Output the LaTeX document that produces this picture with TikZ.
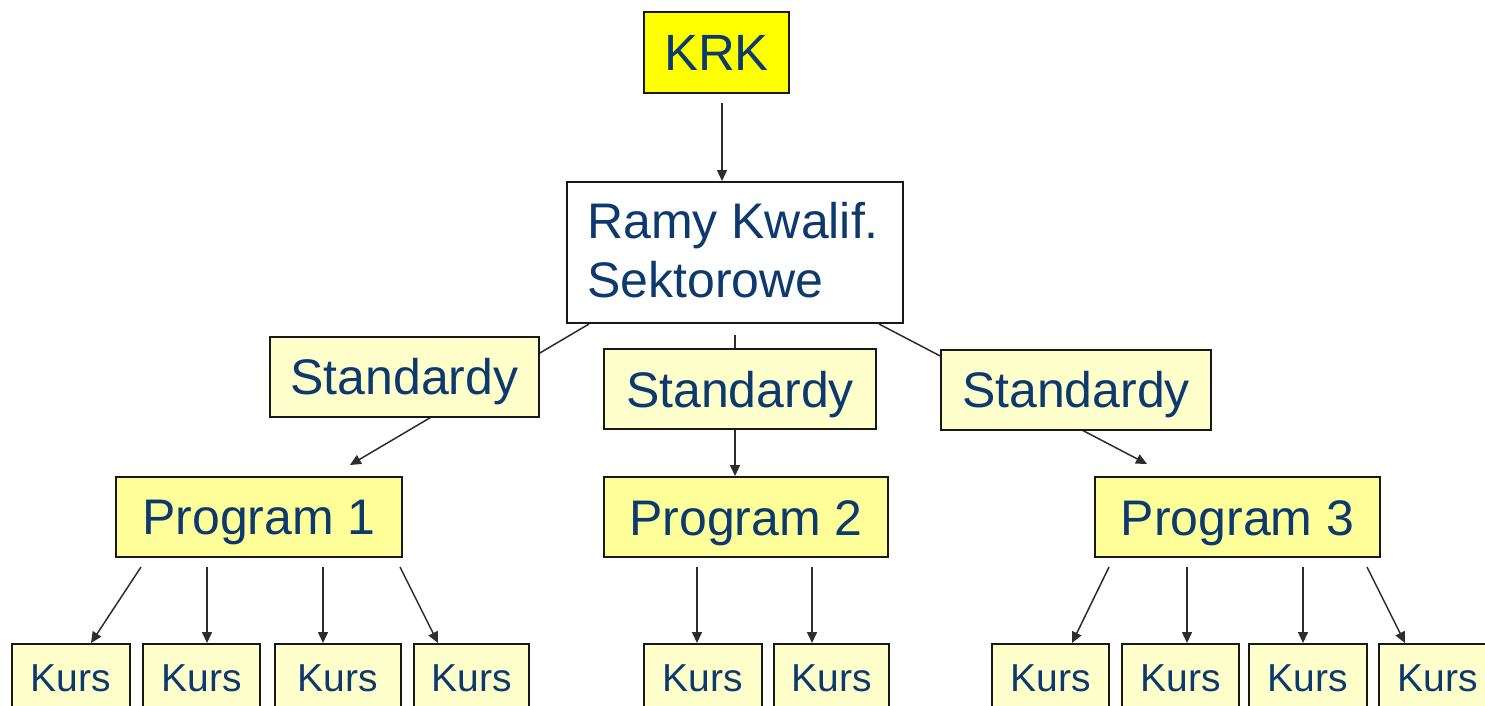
\documentclass[tikz,border=0pt]{standalone}
\usepackage{fontspec}
\setmainfont{Liberation Sans}
\usetikzlibrary{arrows.meta,calc}
\definecolor{txtblue}{RGB}{13,58,110}
\definecolor{krkyellow}{RGB}{255,255,0}
\definecolor{progyellow}{RGB}{255,255,153}
\definecolor{paleyellow}{RGB}{255,255,204}
\definecolor{linegrey}{RGB}{45,45,45}
\pgfdeclarelayer{bg}
\pgfsetlayers{bg,main}
\tikzset{
  box/.style={draw=black!90, line width=2pt, inner sep=0pt, text=txtblue, align=center},
  bigtext/.style={font=\fontsize{50}{59}\selectfont, text height=36pt, text depth=0pt},
  krkbox/.style={box, fill=krkyellow, minimum width=145pt, minimum height=81pt,
    font=\fontsize{51}{60}\selectfont, text height=36.5pt, text depth=0pt},
  ramybox/.style={box, fill=white, minimum width=336pt, minimum height=141pt},
  stdbox/.style={box, bigtext, fill=paleyellow, minimum height=80pt},
  progbox/.style={box, bigtext, fill=progyellow, minimum height=80pt},
  kursbox/.style={box, fill=paleyellow, minimum height=66pt, anchor=north,
    font=\fontsize{39}{46}\selectfont, text height=28pt, text depth=0pt},
  conn/.style={draw=linegrey, line width=1.5pt, -{Triangle[length=11pt,width=10pt]}}
}
\begin{document}
\begin{tikzpicture}[x=1pt,y=-1pt]
\begin{pgfonlayer}{bg}
  \fill[white] (0,0) rectangle (1485,705);
\end{pgfonlayer}
\useasboundingbox (0,0) rectangle (1485,705);

% nodes
\node[krkbox] (krk) at (716.5,52.5) {KRK};
\node[ramybox] (ramy) at (735,252.5) {};
\node[anchor=base west, text=txtblue, inner sep=0pt, align=left,
      font=\fontsize{50}{59}\selectfont] (ramytxt) at (587,297) {Ramy Kwalif.\\Sektorowe};

\node[stdbox, minimum width=269pt] (s1) at (404.5,376.5) {Standardy};
\node[stdbox, minimum width=272pt] (s2) at (740,389) {Standardy};
\node[stdbox, minimum width=270pt] (s3) at (1076,389.5) {Standardy};

\node[progbox, minimum width=286pt] (p1) at (259,516.5) {Program 1};
\node[progbox, minimum width=284pt] (p2) at (746,517) {Program 2};
\node[progbox, minimum width=285pt] (p3) at (1237.5,517) {Program 3};

\node[kursbox, minimum width=118pt] (k1) at (71,643) {Kurs};
\node[kursbox, minimum width=117pt] (k2) at (201.5,643) {Kurs};
\node[kursbox, minimum width=126pt] (k3) at (338,643) {Kurs};
\node[kursbox, minimum width=115pt] (k4) at (471.5,643) {Kurs};
\node[kursbox, minimum width=118pt] (k5) at (703,643) {Kurs};
\node[kursbox, minimum width=115pt] (k6) at (831.5,643) {Kurs};
\node[kursbox, minimum width=117pt] (k7) at (1050.5,643) {Kurs};
\node[kursbox, minimum width=117pt] (k8) at (1180.5,643) {Kurs};
\node[kursbox, minimum width=118pt] (k9) at (1308,643) {Kurs};
\node[kursbox, minimum width=118pt] (k10) at (1438,643) {Kurs};

% connector anchor points
\coordinate (c0) at (722,103);
\coordinate (r1) at ($(ramy.south west)+(23,0)$);
\coordinate (r2) at (735,335);
\coordinate (r3) at ($(ramy.south east)+(-25,0)$);
\coordinate (t1) at (350,465);
\coordinate (t2) at (735,476);
\coordinate (t3) at (1147,464);

\coordinate (a1) at (141,567); \coordinate (b1) at (91,643);
\coordinate (a2) at (207,567);
\coordinate (a3) at (323,567);
\coordinate (a4) at (400,567); \coordinate (b4) at (438,643);
\coordinate (a5) at (697,567);
\coordinate (a6) at (812,567);
\coordinate (a7) at (1109,567); \coordinate (b7) at (1072,643);
\coordinate (a8) at (1187,567);
\coordinate (a9) at (1303,567);
\coordinate (a10) at (1367,567); \coordinate (b10) at (1405,643);

\begin{pgfonlayer}{bg}
  \draw[conn] (c0) -- (c0 |- ramy.north);
  \draw[conn] (r1) -- (t1);
  \draw[conn] (r2) -- (t2);
  \draw[conn] (r3) -- (t3);

  \draw[conn] (a1) -- (b1);
  \draw[conn] (a2) -- (a2 |- k2.north);
  \draw[conn] (a3) -- (a3 |- k3.north);
  \draw[conn] (a4) -- (b4);
  \draw[conn] (a5) -- (a5 |- k5.north);
  \draw[conn] (a6) -- (a6 |- k6.north);
  \draw[conn] (a7) -- (b7);
  \draw[conn] (a8) -- (a8 |- k8.north);
  \draw[conn] (a9) -- (a9 |- k9.north);
  \draw[conn] (a10) -- (b10);
\end{pgfonlayer}
\end{tikzpicture}
\end{document}
